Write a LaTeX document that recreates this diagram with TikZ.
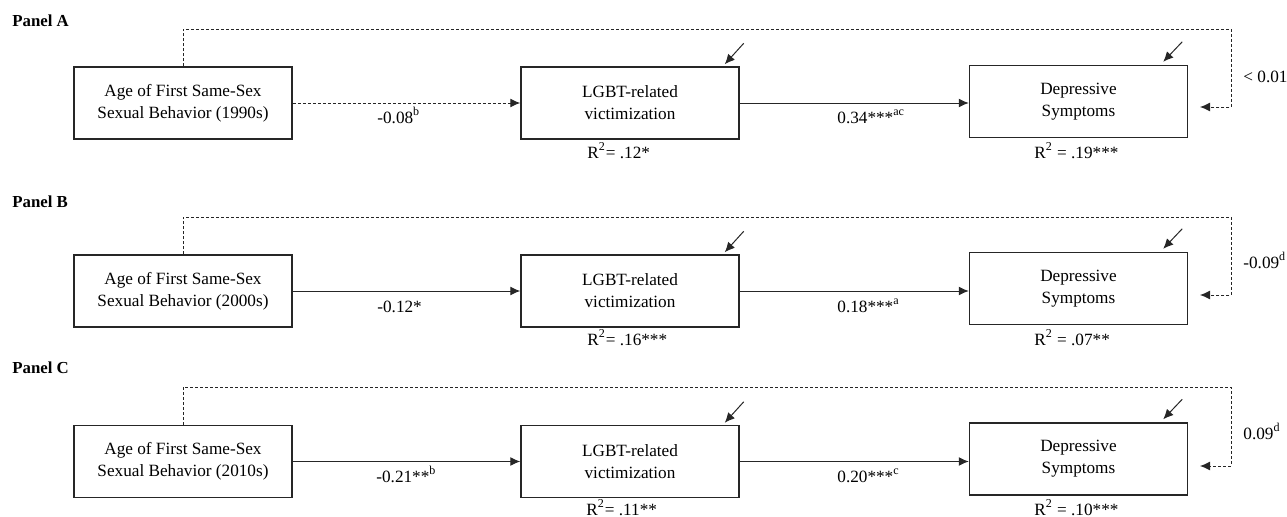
\documentclass[tikz,border=0pt]{standalone}
\usepackage{fontspec}
\setmainfont{Liberation Serif}
\usetikzlibrary{arrows.meta}
\begin{document}
\begin{tikzpicture}[x=0.5pt,y=-0.5pt,
  box/.style={draw=black!85,line width=0.75pt,minimum width=109pt,minimum height=36pt,inner sep=0pt,align=center,font=\fontsize{8.6}{11}\selectfont},
  lbl/.style={anchor=base west,inner sep=0pt,font=\fontsize{8.6}{11}\selectfont},
  conn/.style={draw=black!85,line width=0.5pt,-{Latex[length=5pt,width=4.5pt]}},
  dsh/.style={conn,dash pattern=on 1.5pt off 1pt},
  ptitle/.style={anchor=west,inner sep=0pt,font=\fontsize{8.4}{10}\selectfont\bfseries}]
\useasboundingbox (0,0) rectangle (1287,516);

% ---------- Panel A ----------
\node[ptitle] (pA) at (12,21) {Panel A};
\node[box] (a1) at (183,103) {Age of First Same-Sex\\Sexual Behavior (1990s)};
\node[box] (a2) at (630,103) {LGBT-related\\victimization};
\node[box] (a3) at (1078.5,101.5) {Depressive\\Symptoms};
\coordinate (aT) at (1231,29);
\coordinate (aE) at (1200,107);
\draw[dsh] (a1.north) |- (aT) |- (aE);
\draw[dsh] (a1.east) -- (a2.west);
\draw[conn] (a2.east) -- (a2.east -| a3.west);
\draw[conn] ([shift={(4,-23)}]a2.north east) -- ([shift={(-15,-2)}]a2.north east);
\draw[conn] ([shift={(-6,-23)}]a3.north east) -- ([shift={(-25,-3)}]a3.north east);
\node[lbl] (la1) at (377,123) {-0.08\textsuperscript{b}};
\node[lbl] (la2) at (837,123) {0.34***\textsuperscript{ac}};
\node[lbl] (ra2) at (587,158) {R\textsuperscript{2}= .12*};
\node[lbl] (ra3) at (1034,158) {R\textsuperscript{2} = .19***};
\node[lbl] (da) at (1243,82) {< 0.01};

% ---------- Panel B ----------
\node[ptitle] (pB) at (12,202) {Panel B};
\node[box] (b1) at (183,291) {Age of First Same-Sex\\Sexual Behavior (2000s)};
\node[box] (b2) at (630,291) {LGBT-related\\victimization};
\node[box] (b3) at (1078.5,288.5) {Depressive\\Symptoms};
\coordinate (bT) at (1231,217);
\coordinate (bE) at (1200,295);
\draw[dsh] (b1.north) |- (bT) |- (bE);
\draw[conn] (b1.east) -- (b2.west);
\draw[conn] (b2.east) -- (b2.east -| b3.west);
\draw[conn] ([shift={(4,-23)}]b2.north east) -- ([shift={(-15,-2)}]b2.north east);
\draw[conn] ([shift={(-6,-23)}]b3.north east) -- ([shift={(-25,-3)}]b3.north east);
\node[lbl] (lb1) at (377,312) {-0.12*};
\node[lbl] (lb2) at (837,312) {0.18***\textsuperscript{a}};
\node[lbl] (rb2) at (587,345) {R\textsuperscript{2}= .16***};
\node[lbl] (rb3) at (1034,345) {R\textsuperscript{2} = .07**};
\node[lbl] (db) at (1243,268) {-0.09\textsuperscript{d}};

% ---------- Panel C ----------
\node[ptitle] (pC) at (12,368) {Panel C};
\node[box] (c1) at (183,461.5) {Age of First Same-Sex\\Sexual Behavior (2010s)};
\node[box] (c2) at (630,461.5) {LGBT-related\\victimization};
\node[box] (c3) at (1078.5,459) {Depressive\\Symptoms};
\coordinate (cT) at (1231,387);
\coordinate (cE) at (1200,466);
\draw[dsh] (c1.north) |- (cT) |- (cE);
\draw[conn] (c1.east) -- (c2.west);
\draw[conn] (c2.east) -- (c2.east -| c3.west);
\draw[conn] ([shift={(4,-23)}]c2.north east) -- ([shift={(-15,-2)}]c2.north east);
\draw[conn] ([shift={(-6,-23)}]c3.north east) -- ([shift={(-25,-3)}]c3.north east);
\node[lbl] (lc1) at (376,482) {-0.21**\textsuperscript{b}};
\node[lbl] (lc2) at (837,482) {0.20***\textsuperscript{c}};
\node[lbl] (rc2) at (586,515) {R\textsuperscript{2}= .11**};
\node[lbl] (rc3) at (1034,515) {R\textsuperscript{2} = .10***};
\node[lbl] (dc) at (1243,439) {0.09\textsuperscript{d}};
\end{tikzpicture}
\end{document}
